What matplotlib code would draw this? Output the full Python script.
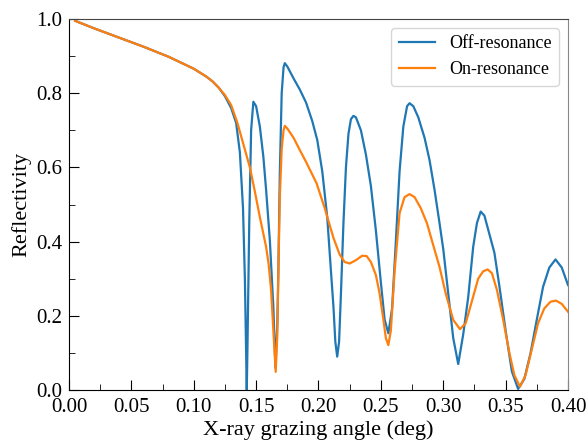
import numpy as np
import matplotlib.pyplot as plt
from matplotlib.ticker import MultipleLocator

plt.rcParams['font.family'] = ['Liberation Serif', 'DejaVu Serif']
plt.rcParams['mathtext.fontset'] = 'stix'

# Off-resonance reflectivity
off_x = [0.005, 0.02, 0.04, 0.06, 0.08, 0.09, 0.10, 0.11, 0.115, 0.12, 0.125, 0.13,
         0.134, 0.137, 0.1395, 0.141, 0.142, 0.1425, 0.143, 0.1445, 0.146, 0.1478,
         0.150, 0.153, 0.1558, 0.158, 0.161, 0.1638, 0.1655, 0.167, 0.1678, 0.169,
         0.1705, 0.172, 0.173, 0.175, 0.180, 0.185, 0.190, 0.195, 0.199, 0.203,
         0.207, 0.210, 0.212, 0.2135, 0.215, 0.2165, 0.218, 0.220, 0.222, 0.224,
         0.226, 0.228, 0.230, 0.234, 0.238, 0.242, 0.246, 0.250, 0.253, 0.256,
         0.259, 0.262, 0.265, 0.268, 0.271, 0.273, 0.276, 0.280, 0.285, 0.289,
         0.293, 0.297, 0.300, 0.304, 0.308, 0.312, 0.316, 0.320, 0.324, 0.327,
         0.330, 0.333, 0.337, 0.341, 0.345, 0.350, 0.355, 0.360, 0.365, 0.370,
         0.375, 0.380, 0.385, 0.390, 0.395, 0.400]
off_r = [0.995, 0.975, 0.950, 0.925, 0.898, 0.882, 0.866, 0.845, 0.832, 0.815, 0.792, 0.760,
         0.720, 0.640, 0.490, 0.300, 0.100, 0.000, 0.100, 0.450, 0.700, 0.777,
         0.765, 0.710, 0.629, 0.540, 0.404, 0.225, 0.060, 0.180, 0.315, 0.584,
         0.800, 0.870, 0.881, 0.872, 0.840, 0.810, 0.775, 0.725, 0.674, 0.590,
         0.466, 0.320, 0.224, 0.130, 0.090, 0.130, 0.260, 0.450, 0.600, 0.690,
         0.730, 0.739, 0.735, 0.700, 0.635, 0.550, 0.430, 0.290, 0.190, 0.153,
         0.220, 0.400, 0.590, 0.710, 0.765, 0.773, 0.765, 0.735, 0.680, 0.620,
         0.540, 0.450, 0.380, 0.260, 0.140, 0.070, 0.150, 0.250, 0.386, 0.450,
         0.481, 0.470, 0.420, 0.370, 0.280, 0.160, 0.050, 0.003, 0.030, 0.100,
         0.190, 0.278, 0.330, 0.352, 0.330, 0.283]

# On-resonance reflectivity
on_x = [0.005, 0.02, 0.04, 0.06, 0.08, 0.09, 0.10, 0.11, 0.115, 0.12, 0.125, 0.13,
        0.135, 0.140, 0.145, 0.149, 0.153, 0.158, 0.160, 0.162, 0.164, 0.1657,
        0.167, 0.168, 0.169, 0.1705, 0.172, 0.173, 0.175, 0.180, 0.185, 0.190,
        0.1985, 0.205, 0.212, 0.217, 0.221, 0.225, 0.230, 0.235, 0.2386, 0.242,
        0.246, 0.249, 0.252, 0.254, 0.256, 0.258, 0.261, 0.265, 0.269, 0.273,
        0.277, 0.282, 0.287, 0.292, 0.297, 0.302, 0.308, 0.3134, 0.318, 0.323,
        0.328, 0.332, 0.3356, 0.339, 0.343, 0.348, 0.353, 0.357, 0.3615, 0.366,
        0.371, 0.376, 0.381, 0.386, 0.3904, 0.395, 0.400]
on_r = [0.995, 0.975, 0.950, 0.925, 0.898, 0.882, 0.866, 0.845, 0.832, 0.815, 0.795, 0.768,
        0.720, 0.660, 0.600, 0.535, 0.466, 0.386, 0.340, 0.270, 0.150, 0.049,
        0.150, 0.350, 0.520, 0.650, 0.700, 0.712, 0.705, 0.680, 0.647, 0.615,
        0.557, 0.490, 0.410, 0.365, 0.345, 0.341, 0.350, 0.362, 0.361, 0.345,
        0.310, 0.260, 0.190, 0.140, 0.121, 0.160, 0.320, 0.477, 0.520, 0.528,
        0.520, 0.490, 0.449, 0.390, 0.332, 0.260, 0.189, 0.164, 0.180, 0.240,
        0.300, 0.320, 0.325, 0.315, 0.270, 0.190, 0.100, 0.040, 0.009, 0.040,
        0.110, 0.180, 0.220, 0.238, 0.241, 0.232, 0.211]

fig = plt.figure(figsize=(5.86, 4.42), dpi=100)
ax = fig.add_axes([0.1177, 0.1176, 0.8516, 0.8394])

ax.plot(off_x, off_r, color='#1f77b4', lw=1.6, label='Off-resonance')
ax.plot(on_x, on_r, color='#ff7f0e', lw=1.6, label='On-resonance')

ax.set_xlim(0, 0.40)
ax.set_ylim(0, 1.0)
ax.xaxis.set_major_locator(MultipleLocator(0.05))
ax.xaxis.set_minor_locator(MultipleLocator(0.025))
ax.yaxis.set_major_locator(MultipleLocator(0.2))
ax.yaxis.set_minor_locator(MultipleLocator(0.1))
ax.tick_params(which='both', direction='in', labelsize=15)
ax.tick_params(which='major', length=7)
ax.tick_params(which='minor', length=4)
ax.tick_params(axis='x', which='major', pad=6)
ax.tick_params(axis='y', which='major', pad=5)

ax.spines['right'].set_color('#888888')
ax.spines['top'].set_color('#444444')

ax.set_xlabel('X-ray grazing angle (deg)', fontsize=16, labelpad=2)
ax.set_ylabel('Reflectivity', fontsize=16, labelpad=3)
ax.legend(loc='upper right', fontsize=13, handlelength=2.0)

plt.savefig('out.png', dpi=100)
